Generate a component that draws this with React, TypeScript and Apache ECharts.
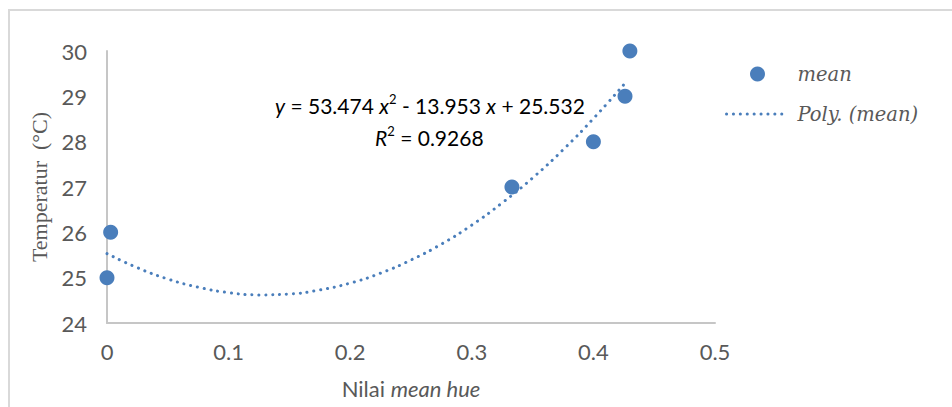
import React, { useEffect, useRef } from "react";
import * as echarts from "echarts";

// Observed points (Nilai mean hue, Temperatur)
const meanX = [0, 0.003, 0.333, 0.4, 0.426, 0.43];
const meanY = [25, 26, 27, 28, 29, 30];

// Polynomial trendline
const trendX = [0, 0.025, 0.05, 0.075, 0.1, 0.125, 0.15, 0.175, 0.2, 0.225, 0.25, 0.275, 0.3, 0.325, 0.35, 0.375, 0.4, 0.427];
const trendY = [25.53, 25.22, 24.97, 24.79, 24.67, 24.62, 24.64, 24.73, 24.88, 25.1, 25.39, 25.74, 26.16, 26.65, 27.2, 27.82, 28.51, 29.32];

const xTicks = { min: 0, max: 0.5, interval: 0.1 };
const yTicks = { min: 24, max: 30, interval: 1 };

const BLUE = "#4a7ebb";
const GREY = "#595959";
const SANS = "Lato, 'Open Sans', sans-serif";
const SERIF = "'Liberation Serif', 'Times New Roman', serif";
const LEG_SERIF = "'DejaVu Serif', serif";

export default function App() {
  const ref = useRef<HTMLDivElement>(null);
  useEffect(() => {
    if (!ref.current) return;
    const chart = echarts.init(ref.current, undefined, { renderer: "svg" });
    const meanData = meanX.map((x, i) => [x, meanY[i]]);
    const trendData = trendX.map((x, i) => [x, trendY[i]]);
    const eqRich = {
      n: { fontFamily: SANS, fontSize: 21, color: "#4a4a4a", lineHeight: 26 },
      i: { fontFamily: SANS, fontSize: 21, color: "#4a4a4a", fontStyle: "italic", lineHeight: 26 },
      s: { fontFamily: SANS, fontSize: 13, color: "#4a4a4a", lineHeight: 16, verticalAlign: "top" },
    };
    chart.setOption({
      animation: false,
      backgroundColor: "#ffffff",
      grid: { left: 107, right: 237, top: 51, bottom: 84, containLabel: false },
      xAxis: {
        type: "value",
        min: xTicks.min,
        max: xTicks.max,
        interval: xTicks.interval,
        name: "{n|Nilai }{i|mean hue}",
        nameLocation: "middle",
        nameGap: 54,
        nameTextStyle: {
          rich: {
            n: { fontFamily: SANS, fontSize: 22, color: GREY },
            i: { fontFamily: SANS, fontSize: 22, color: GREY, fontStyle: "italic" },
          },
        },
        axisLine: { show: true, lineStyle: { color: "#c6c6c6", width: 2 } },
        axisTick: { show: false },
        splitLine: { show: false },
        axisLabel: { fontFamily: SANS, fontSize: 22, color: GREY, margin: 17 },
      },
      yAxis: {
        type: "value",
        min: yTicks.min,
        max: yTicks.max,
        interval: yTicks.interval,
        name: "Temperatur  (°C)",
        nameLocation: "middle",
        nameGap: 52,
        nameTextStyle: { fontFamily: SERIF, fontSize: 22, color: GREY },
        axisLine: { show: true, lineStyle: { color: "#c6c6c6", width: 2 } },
        axisTick: { show: false },
        splitLine: { show: false },
        axisLabel: { fontFamily: SANS, fontSize: 22, color: GREY, margin: 20 },
      },
      legend: {
        orient: "vertical",
        left: 720,
        top: 59,
        itemWidth: 62,
        itemHeight: 15,
        itemGap: 20,
        textStyle: {
          fontFamily: LEG_SERIF,
          fontSize: 19.5,
          fontStyle: "italic",
          color: GREY,
          padding: [0, 0, 0, 4],
          lineHeight: 19,
        },
        data: [
          { name: "mean", icon: "circle" },
          {
            name: "Poly. (mean)",
            itemStyle: { opacity: 0 },
            lineStyle: { color: BLUE, width: 3, type: [0.1, 6.8], cap: "round" },
          },
        ],
      },
      series: [
        {
          name: "Poly. (mean)",
          type: "line",
          data: trendData,
          smooth: true,
          showSymbol: false,
          symbol: "none",
          lineStyle: { color: BLUE, width: 3, type: [0.1, 6.8], cap: "round" },
          itemStyle: { color: BLUE },
          z: 2,
        },
        {
          name: "mean",
          type: "scatter",
          data: meanData,
          symbol: "circle",
          symbolSize: 15,
          itemStyle: { color: BLUE, opacity: 1 },
          z: 3,
        },
      ],
      graphic: [
        {
          type: "rect",
          shape: { x: 9, y: 10, width: 980, height: 440 },
          style: { fill: "none", stroke: "#d9d9d9", lineWidth: 2 },
          silent: true,
        },
        {
          type: "text",
          left: 275,
          top: 92,
          style: {
            text: "{i|y}{n| = 53.474 }{i|x}{s|2}{n| - 13.953 }{i|x}{n| + 25.532}",
            rich: eqRich,
          },
        },
        {
          type: "text",
          left: 375,
          top: 124,
          style: {
            text: "{i|R}{s|2}{n| = 0.9268}",
            rich: eqRich,
          },
        },
      ],
    });
    return () => chart.dispose();
  }, []);
  return (
    <div
      ref={ref}
      style={{ position: "fixed", left: 0, top: 0, width: 952, height: 407 }}
    />
  );
}
